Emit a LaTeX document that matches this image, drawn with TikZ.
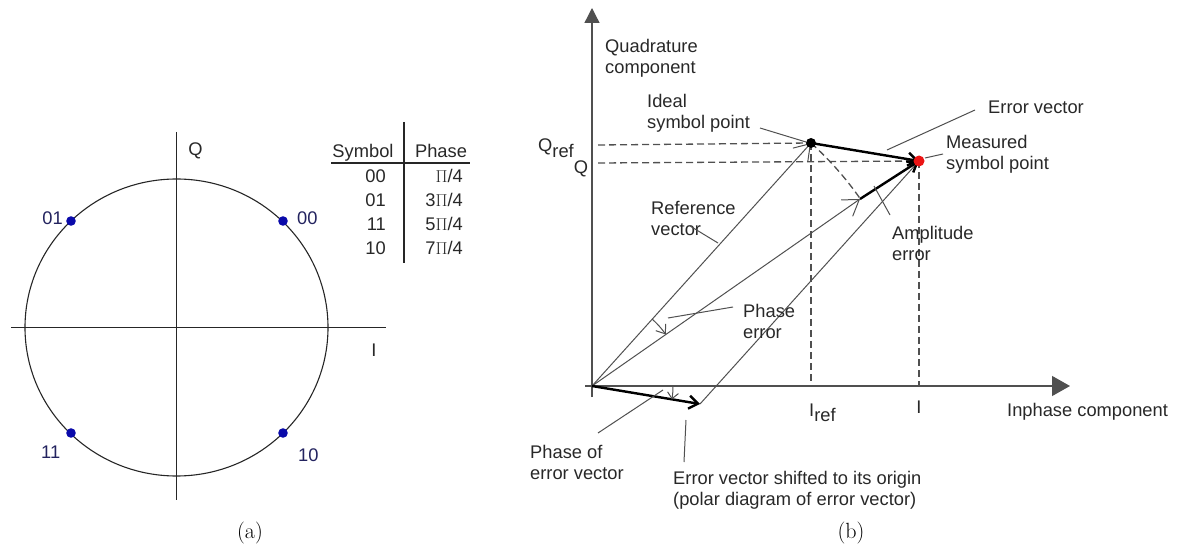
\documentclass[tikz,border=0pt]{standalone}
\usepackage{fontspec}
\setsansfont{Liberation Sans}
\usepackage{tikz}
\usetikzlibrary{arrows.meta,calc}
\definecolor{TextGray}{RGB}{40,40,40}
\definecolor{LineGray}{RGB}{80,80,80}
\definecolor{DotBlue}{RGB}{10,10,170}
\definecolor{LabelNavy}{RGB}{35,35,95}
\definecolor{PointRed}{RGB}{235,20,20}
\tikzset{
  lbl/.style={font=\sffamily\fontsize{18.3}{21}\selectfont,text=TextGray,inner sep=0pt,align=left},
  symlbl/.style={lbl,text=LabelNavy},
  leader/.style={LineGray,line width=1pt},
  guide/.style={LineGray,line width=1.3pt,dash pattern=on 7pt off 4pt},
  vec/.style={LineGray,line width=1pt},
  errvec/.style={black,line width=2.4pt},
  caption/.style={font=\fontsize{22}{26}\selectfont,inner sep=0pt}
}
\begin{document}
\begin{tikzpicture}[x=1pt,y=-1pt]
  \useasboundingbox (0,0) rectangle (1179,548);
  % (a) constellation
  \coordinate (C) at (176.5,327.5);
  \draw[black!85,line width=1.1pt] (C) ellipse [x radius=151.5,y radius=148.5];
  \coordinate (AxIL) at (11,327.5);
  \coordinate (AxIR) at (386,327.5);
  \coordinate (AxQT) at (176.5,132);
  \coordinate (AxQB) at (176.5,500);
  \draw[black!85,line width=1.1pt] (AxIL)--(AxIR);
  \draw[black!85,line width=1.1pt] (AxQT)--(AxQB);
  \fill[DotBlue] (283,221) circle (4.8) coordinate (S00);
  \fill[DotBlue] (71,221) circle (4.8) coordinate (S01);
  \fill[DotBlue] (71,433) circle (4.8) coordinate (S11);
  \fill[DotBlue] (283,433) circle (4.8) coordinate (S10);
  \node[symlbl,anchor=west] (L00) at (297,218) {00};
  \node[symlbl,anchor=east] (L01) at (63,218) {01};
  \node[symlbl,anchor=west] (L11) at (41,452) {11};
  \node[symlbl,anchor=west] (L10) at (298,455) {10};
  \node[lbl] (LQa) at (195.5,151) {Q};
  \node[lbl] (LIa) at (374,350) {I};
  % table
  \coordinate (TabT) at (404,122);
  \coordinate (TabB) at (404,263);
  \coordinate (TabL) at (331,163);
  \coordinate (TabR) at (470,163);
  \draw[black!85,line width=1.1pt] (TabT)--(TabB);
  \draw[black!85,line width=1.1pt] (TabL)--(TabR);
  \node[lbl,anchor=base] (HSym) at (363,158) {Symbol};
  \node[lbl,anchor=base] (HPha) at (441,158) {Phase};
  \node[lbl,anchor=base east] (R1s) at (386,183) {00};
  \node[lbl,anchor=base east] (R1p) at (463,183) {$\Pi$/4};
  \node[lbl,anchor=base east] (R2s) at (386,207) {01};
  \node[lbl,anchor=base east] (R2p) at (463,207) {3$\Pi$/4};
  \node[lbl,anchor=base east] (R3s) at (386,231) {11};
  \node[lbl,anchor=base east] (R3p) at (463,231) {5$\Pi$/4};
  \node[lbl,anchor=base east] (R4s) at (386,255) {10};
  \node[lbl,anchor=base east] (R4p) at (463,255) {7$\Pi$/4};
  \node[caption] (CapA) at (250,533) {(a)};

  % (b) error vector diagram
  \coordinate (O) at (592,386);
  \coordinate (Ideal) at (811,143);
  \coordinate (Meas) at (919,161);
  \coordinate (Rot) at (860,199);
  \coordinate (Shift) at (700,404);
  \coordinate (YBot) at (592,397);
  \coordinate (YTop) at (592,8);
  \coordinate (XLft) at (585,386);
  \coordinate (XRgt) at (1070,386);
  \draw[LineGray,line width=1.3pt,-{Triangle[length=15pt,width=15pt]}] (YBot)--(YTop);
  \draw[LineGray,line width=1.3pt,-{Triangle[length=18pt,width=20pt]}] (XLft)--(XRgt);
  % guides
  \draw[guide] (598,145)--(Ideal);
  \draw[guide] (598,163)--(Meas);
  \draw[guide] (Ideal)--(Ideal|-O);
  \draw[guide] (Meas)--(Meas|-O);
  \draw[guide] (Ideal) arc[start angle=-47.97,end angle=-34.9,radius=327];
  % vectors
  \draw[vec,-{Straight Barb[length=15pt,width=20pt]}] (O)--(Ideal);
  \draw[vec,-{Straight Barb[length=15pt,width=20pt]}] (O)--(Rot);
  \draw[vec] (Shift)--(Meas);
  \draw[errvec,-{Straight Barb[length=9pt,width=13pt]}] (Ideal)--(Meas);
  \draw[errvec,-{Straight Barb[length=9pt,width=13pt]}] (Rot)--(Meas);
  \draw[errvec,-{Straight Barb[length=9pt,width=13pt]}] (O)--(Shift);
  \draw[vec,-{Straight Barb[length=8pt,width=12pt]}] ($(O)+(-47.97:90)$) arc[start angle=-47.97,end angle=-34.9,radius=90];
  \draw[vec,-{Straight Barb[length=6pt,width=11pt]}] ($(O)+(0:81)$) arc[start angle=0,end angle=9.5,radius=81];
  \fill[black] (Ideal) circle (5);
  \fill[PointRed] (Meas) circle (5.5);
  % labels
  \node[lbl,anchor=west] (LQuad) at (605,58) {Quadrature\\component};
  \node[lbl,anchor=west] (LIdeal) at (647,113) {Ideal\\symbol point};
  \node[lbl,anchor=west] (LErr) at (988,107) {Error vector};
  \node[lbl,anchor=west] (LMeas) at (946,154) {Measured\\symbol point};
  \node[lbl,anchor=west] (LRef) at (651,218) {Reference\\vector};
  \node[lbl,anchor=west] (LPhErr) at (743,321) {Phase\\error};
  \node[lbl,anchor=west] (LAmp) at (892,243) {Amplitude\\error};
  \node[lbl,anchor=west] (LPhOf) at (530,462) {Phase of\\error vector};
  \node[lbl,anchor=west] (LShift) at (673,490) {Error vector shifted to its origin\\(polar diagram of error vector)};
  \node[lbl,anchor=west] (LInph) at (1007,412) {Inphase component};
  \node[lbl,anchor=base west] (LQref) at (538,152) {Q\raisebox{-6pt}{ref}};
  \node[lbl] (LQ) at (581,169) {Q};
  \node[lbl,anchor=base west] (LIref) at (809,416) {I\raisebox{-5pt}{ref}};
  \node[lbl] (LI) at (919,407) {I};
  % leaders
  \coordinate (IdealTail) at (760,128);
  \coordinate (IdealTip) at (806,142);
  \coordinate (ErrTail) at (975,110);
  \coordinate (ErrTip) at (887,150);
  \coordinate (MeasTail) at (943,154);
  \coordinate (MeasTip) at (925,158);
  \coordinate (RefTail) at (690,226);
  \coordinate (RefTip) at (718,243);
  \coordinate (PhErrTail) at (733,307);
  \coordinate (PhErrTip) at (668,318);
  \coordinate (AmpTail) at (890,215);
  \coordinate (AmpTip) at (874,186);
  \coordinate (PhOfTail) at (598,433);
  \coordinate (PhOfTip) at (663,390);
  \coordinate (ShiftTail) at (684,462);
  \coordinate (ShiftTip) at (686,420);
  \draw[leader] (IdealTail)--(IdealTip);
  \draw[leader] (ErrTail)--(ErrTip);
  \draw[leader] (MeasTail)--(MeasTip);
  \draw[leader] (RefTail)--(RefTip);
  \draw[leader] (PhErrTail)--(PhErrTip);
  \draw[leader] (AmpTail)--(AmpTip);
  \draw[leader] (PhOfTail)--(PhOfTip);
  \draw[leader] (ShiftTail)--(ShiftTip);
  \node[caption] (CapB) at (851,533) {(b)};
\end{tikzpicture}
\end{document}
